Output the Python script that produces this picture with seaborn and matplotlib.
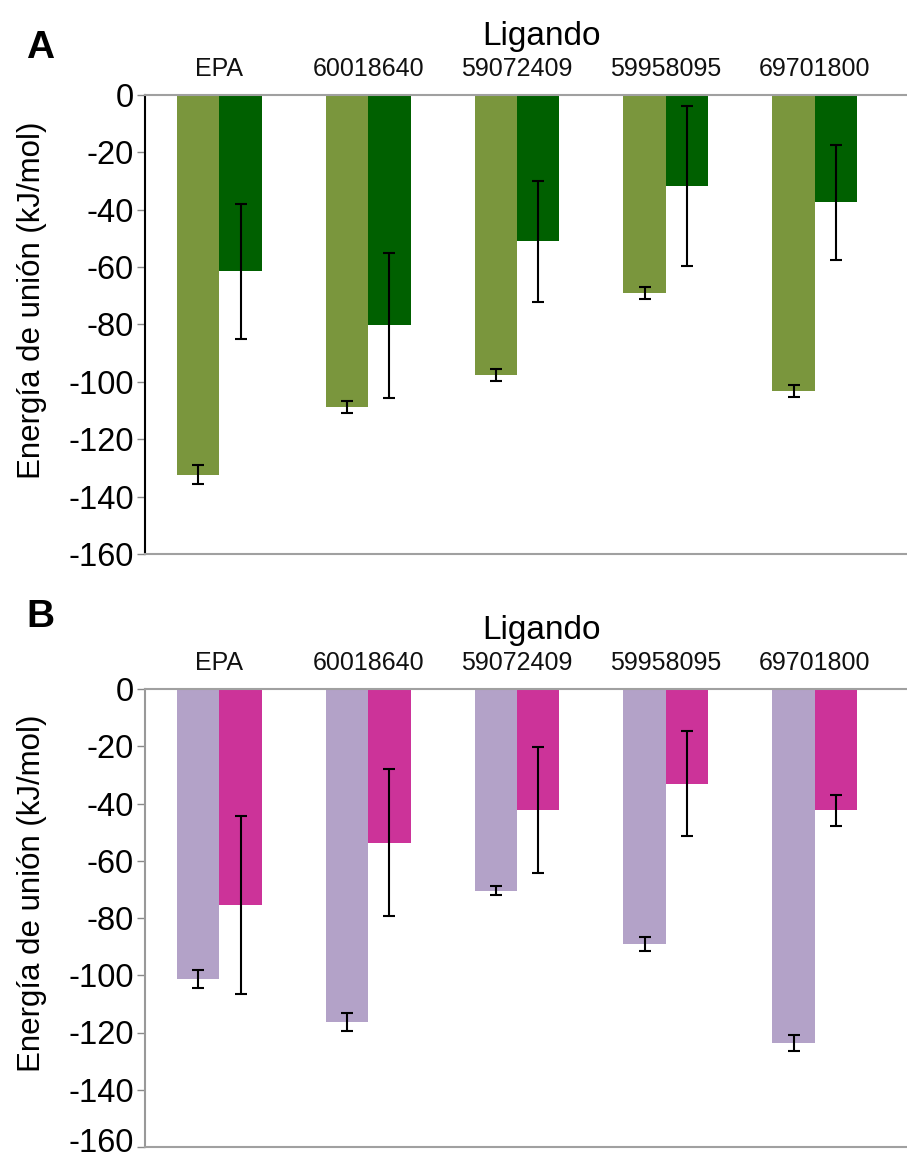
import matplotlib
matplotlib.use("Agg")
import matplotlib.pyplot as plt
import matplotlib.transforms as mtransforms
import seaborn as sns
import pandas as pd

# Ligands on the category axis
ligands = ["EPA", "60018640", "59072409", "59958095", "69701800"]

# Panel A: binding energies (kJ/mol) and error half-widths
a_first_mean = [-132.3, -108.7, -97.6, -69.1, -103.1]
a_first_err = [3.4, 2.1, 2.1, 2.0, 2.1]
a_second_mean = [-61.5, -80.3, -51.0, -31.8, -37.4]
a_second_err = [23.6, 25.2, 21.1, 27.9, 20.0]

# Panel B: binding energies (kJ/mol) and error half-widths
b_first_mean = [-101.3, -116.3, -70.5, -89.1, -123.7]
b_first_err = [3.2, 3.2, 1.6, 2.3, 2.7]
b_second_mean = [-75.4, -53.7, -42.4, -33.1, -42.4]
b_second_err = [31.0, 25.7, 22.0, 18.3, 5.3]

y_ticks = [0, -20, -40, -60, -80, -100, -120, -140, -160]

sns.set_theme(style="white")
plt.rcParams["font.family"] = ["Liberation Sans", "DejaVu Sans"]
plt.rcParams["text.color"] = "black"
plt.rcParams["axes.labelcolor"] = "black"
plt.rcParams["xtick.color"] = "black"
plt.rcParams["ytick.color"] = "black"

W, H = 907, 1161
fig = plt.figure(figsize=(W / 100, H / 100), dpi=100)


def px_axes(left, top, right, bottom):
    return fig.add_axes([left / W, 1 - bottom / H, (right - left) / W, (bottom - top) / H])


def panel(ax, m1, e1, m2, e2, colors, letter, letter_y, left_spine_color):
    df = pd.DataFrame({
        "Ligando": ligands * 2,
        "serie": ["I"] * len(ligands) + ["II"] * len(ligands),
        "energia": m1 + m2,
    })
    errs = e1 + e2
    sns.barplot(data=df, x="Ligando", y="energia", hue="serie", order=ligands,
                hue_order=["I", "II"], palette=colors, width=0.57, saturation=1,
                errorbar=None, legend=False, linewidth=0, ax=ax)
    # error bars at the centre of each bar, in hue order
    for bar, err in zip(ax.patches, errs):
        xc = bar.get_x() + bar.get_width() / 2
        yv = bar.get_y() + bar.get_height()
        ax.errorbar(xc, yv, yerr=err, fmt="none", ecolor="black",
                    elinewidth=1.5, capsize=4.5, capthick=1.5, zorder=5)

    ax.set_ylim(-160, 0)
    ax.set_xlim(-0.5, 4.62)
    ax.set_yticks(y_ticks)
    ax.set_yticklabels([str(t) for t in y_ticks], fontsize=23.5)
    ax.xaxis.tick_top()
    ax.xaxis.set_label_position("top")
    ax.tick_params(axis="x", length=0, pad=10, labelsize=18, labelcolor="#111111")
    ax.tick_params(axis="y", left=True, length=6, width=1, color="#888888",
                   pad=2, labelcolor="black")
    ax.set_xlabel("Ligando", fontsize=24, labelpad=6)
    ax.xaxis.set_label_coords(0.52, 1.11)
    ax.set_ylabel("Energía de unión (kJ/mol)", fontsize=22.5)
    ax.yaxis.set_label_coords(-0.128, 0.553)
    for side in ["top", "bottom"]:
        ax.spines[side].set_color("#a0a0a0")
        ax.spines[side].set_linewidth(1.5)
    ax.spines["left"].set_color(left_spine_color)
    ax.spines["left"].set_linewidth(1.5)
    ax.spines["right"].set_visible(False)
    fig.text(26 / W, 1 - letter_y / H, letter, fontsize=28, fontweight="bold",
             ha="left", va="center")


ax_a = px_axes(145, 95, 907, 554)
panel(ax_a, a_first_mean, a_first_err, a_second_mean, a_second_err,
      ["#7a963d", "#006000"], "A", 48, "black")

ax_b = px_axes(145, 689, 907, 1147)
panel(ax_b, b_first_mean, b_first_err, b_second_mean, b_second_err,
      ["#b3a2c8", "#cc3399"], "B", 617, "#999999")

# keep the lowest tick label of the bottom panel inside the figure
fig.canvas.draw()
last = ax_b.get_yticklabels()[-1]
last.set_transform(last.get_transform()
                   + mtransforms.ScaledTranslation(0, 5 / 72, fig.dpi_scale_trans))

fig.savefig("out.png", dpi=100)
